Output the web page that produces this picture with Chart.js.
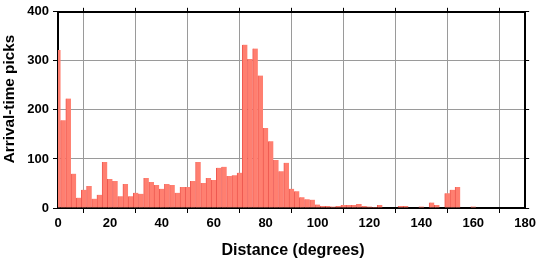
<!DOCTYPE html>
<html lang="en">
<head>
<meta charset="UTF-8">
<title>Arrival-time picks</title>
<style>
    body { margin: 0; background: #fff; }
    canvas { display: block; }
</style>
</head>
<body>
<canvas id="myChart" width="539" height="258"></canvas>

<script src="https://cdn.jsdelivr.net/npm/chart.js"></script>
<script>
    // bin centres (degrees), 2 degree bins
    const binCenters = [
        0, 2, 4, 6, 8, 10, 12, 14, 16, 18,
        20, 22, 24, 26, 28, 30, 32, 34, 36, 38,
        40, 42, 44, 46, 48, 50, 52, 54, 56, 58,
        60, 62, 64, 66, 68, 70, 72, 74, 76, 78,
        80, 82, 84, 86, 88, 90, 92, 94, 96, 98,
        100, 102, 104, 106, 108, 110, 112, 114, 116, 118,
        120, 122, 124, 126, 128, 130, 132, 134, 136, 138,
        140, 142, 144, 146, 148, 150, 152, 154, 156, 158,
        160, 162, 164, 166, 168, 170, 172, 174, 176, 178,
        180
    ];
    // number of picks in each bin
    const picks = [
        322, 179, 223, 70, 21, 37, 45, 19, 27, 94,
        59, 55, 24, 49, 24, 31, 29, 61, 53, 47,
        39, 49, 47, 31, 43, 43, 55, 94, 51, 61,
        57, 82, 84, 65, 67, 72, 333, 304, 325, 270,
        163, 136, 98, 75, 92, 39, 34, 22, 18, 17,
        7, 4, 4, 3, 4, 6, 6, 6, 8, 4,
        3, 2, 6, 1, 0, 1, 4, 4, 1, 1,
        3, 1, 11, 6, 1, 30, 37, 43, 1, 1,
        3, 0, 0, 0, 0, 0, 1, 0, 0, 0,
        0
    ];
    const xTicks = [0, 20, 40, 60, 80, 100, 120, 140, 160, 180];
    const yTicks = [0, 100, 200, 300, 400];

    const v_font = '"Liberation Sans", Arial, Helvetica, sans-serif';

    function f_xTicks(p_scale) { p_scale.ticks = xTicks.map(v => ({ value: v })); }
    function f_yTicks(p_scale) { p_scale.ticks = yTicks.map(v => ({ value: v })); }

    // axis titles placed by hand
    const titlePlugin = {
        id: 'titles',
        afterDraw(chart) {
            const c = chart.ctx;
            c.save();
            c.fillStyle = '#000';
            c.textAlign = 'center';
            c.textBaseline = 'alphabetic';
            c.font = 'bold 16px ' + v_font;
            c.fillText('Distance (degrees)', 293, 254.5);
            c.translate(13.5, 99);
            c.rotate(-Math.PI / 2);
            c.font = 'bold 15.3px ' + v_font;
            c.fillText('Arrival-time picks', 0, 0);
            c.restore();
        }
    };

    const ctx = document.getElementById('myChart');

    new Chart(ctx, {
        type: 'bar',
        data: {
            datasets: [{
                data: binCenters.map((d, i) => ({ x: d, y: picks[i] })),
                backgroundColor: '#FF7F70',
                borderColor: '#EE5850',
                borderWidth: { left: 1, right: 0, top: 0, bottom: 0 },
                barPercentage: 1,
                categoryPercentage: 1,
                clip: 0
            }]
        },
        options: {
            responsive: false,
            animation: false,
            layout: { padding: 0 },
            plugins: {
                legend: { display: false },
                tooltip: { enabled: false }
            },
            scales: {
                x: {
                    type: 'linear',
                    position: 'bottom',
                    min: 0,
                    max: 180,
                    offset: false,
                    afterBuildTicks: f_xTicks,
                    afterFit: s => { s.height = 50; },
                    grid: { color: '#9a9a9a', lineWidth: 1, tickLength: 5, tickColor: '#000' },
                    border: { color: '#000', width: 2 },
                    ticks: {
                        color: '#000',
                        font: { family: v_font, size: 13, weight: 'bold' },
                        padding: 3,
                        maxRotation: 0,
                        autoSkip: false
                    }
                },
                x2: {
                    type: 'linear',
                    position: 'top',
                    min: 0,
                    max: 180,
                    offset: false,
                    afterBuildTicks: f_xTicks,
                    afterFit: s => { s.height = 5; },
                    grid: { drawOnChartArea: false, tickLength: 4, tickColor: '#000' },
                    border: { color: '#000', width: 2 },
                    ticks: { display: false }
                },
                y: {
                    type: 'linear',
                    position: 'left',
                    min: 0,
                    max: 400,
                    afterBuildTicks: f_yTicks,
                    afterFit: s => { s.width = 58; },
                    grid: { color: '#9a9a9a', lineWidth: 1, tickLength: 5, tickColor: '#000' },
                    border: { color: '#000', width: 2 },
                    ticks: {
                        color: '#000',
                        font: { family: v_font, size: 13, weight: 'bold' },
                        padding: 4
                    }
                },
                y2: {
                    type: 'linear',
                    position: 'right',
                    min: 0,
                    max: 400,
                    afterBuildTicks: f_yTicks,
                    afterFit: s => { s.width = 12; },
                    grid: { drawOnChartArea: false, tickLength: 4, tickColor: '#000' },
                    border: { color: '#000', width: 2 },
                    ticks: { display: false }
                }
            }
        },
        plugins: [titlePlugin]
    });
</script>
</body>
</html>
